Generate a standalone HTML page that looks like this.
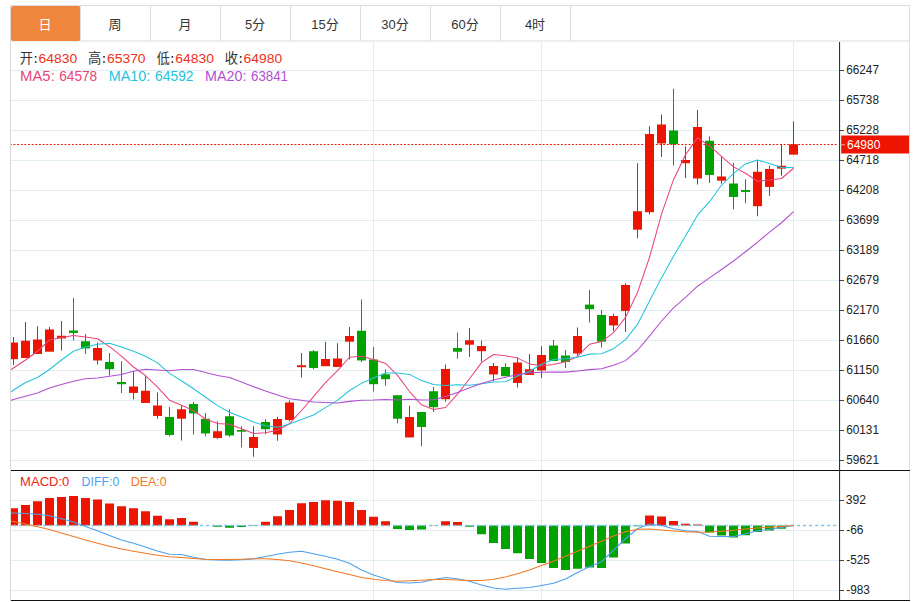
<!DOCTYPE html>
<html><head><meta charset="utf-8"><title>K</title>
<style>html,body{margin:0;padding:0;background:#fff;}svg{display:block}text{font-family:"Liberation Sans","Noto Sans CJK SC",sans-serif;}</style>
</head><body>
<svg width="916" height="602" viewBox="0 0 916 602">
<rect x="0" y="0" width="916" height="602" fill="#fff"/>
<rect x="10.5" y="5.5" width="899" height="35.5" fill="#fff" stroke="#ddd" stroke-width="1"/>
<rect x="11" y="6" width="69.5" height="35" rx="2" fill="#f0853c"/>
<rect x="80" y="6" width="1" height="35" fill="#ddd"/>
<rect x="150" y="6" width="1" height="35" fill="#ddd"/>
<rect x="220" y="6" width="1" height="35" fill="#ddd"/>
<rect x="290" y="6" width="1" height="35" fill="#ddd"/>
<rect x="360" y="6" width="1" height="35" fill="#ddd"/>
<rect x="430" y="6" width="1" height="35" fill="#ddd"/>
<rect x="500" y="6" width="1" height="35" fill="#ddd"/>
<rect x="570" y="6" width="1" height="35" fill="#ddd"/>
<text x="38.5" y="28.9" font-size="13" fill="#fff">日</text>
<text x="108.5" y="28.9" font-size="13" fill="#333">周</text>
<text x="178.5" y="28.9" font-size="13" fill="#333">月</text>
<text x="244.89" y="29.2" font-size="13" fill="#333">5</text>
<text x="252.11" y="28.9" font-size="13" fill="#333">分</text>
<text x="311.27" y="29.2" font-size="13" fill="#333">15</text>
<text x="325.73" y="28.9" font-size="13" fill="#333">分</text>
<text x="381.27" y="29.2" font-size="13" fill="#333">30</text>
<text x="395.73" y="28.9" font-size="13" fill="#333">分</text>
<text x="451.27" y="29.2" font-size="13" fill="#333">60</text>
<text x="465.73" y="28.9" font-size="13" fill="#333">分</text>
<text x="524.89" y="29.2" font-size="13" fill="#333">4</text>
<text x="532.11" y="28.9" font-size="13" fill="#333">时</text>
<g shape-rendering="crispEdges">
<rect x="11" y="70" width="828" height="1" fill="#e1ecf2"/>
<rect x="11" y="100" width="828" height="1" fill="#e1ecf2"/>
<rect x="11" y="130" width="828" height="1" fill="#e1ecf2"/>
<rect x="11" y="160" width="828" height="1" fill="#e1ecf2"/>
<rect x="11" y="190" width="828" height="1" fill="#e1ecf2"/>
<rect x="11" y="220" width="828" height="1" fill="#e1ecf2"/>
<rect x="11" y="250" width="828" height="1" fill="#e1ecf2"/>
<rect x="11" y="280" width="828" height="1" fill="#e1ecf2"/>
<rect x="11" y="310" width="828" height="1" fill="#e1ecf2"/>
<rect x="11" y="340" width="828" height="1" fill="#e1ecf2"/>
<rect x="11" y="370" width="828" height="1" fill="#e1ecf2"/>
<rect x="11" y="400" width="828" height="1" fill="#e1ecf2"/>
<rect x="11" y="430" width="828" height="1" fill="#e1ecf2"/>
<rect x="11" y="460" width="828" height="1" fill="#e1ecf2"/>
<rect x="11" y="500" width="828" height="1" fill="#e1ecf2"/>
<rect x="11" y="530" width="828" height="1" fill="#e1ecf2"/>
<rect x="11" y="560" width="828" height="1" fill="#e1ecf2"/>
<rect x="11" y="590" width="828" height="1" fill="#e1ecf2"/>
<rect x="373" y="41.5" width="1" height="558" fill="#e1ecf2"/>
<rect x="541" y="41.5" width="1" height="558" fill="#e1ecf2"/>
<rect x="793" y="41.5" width="1" height="558" fill="#e1ecf2"/>
</g>
<rect x="10" y="5" width="1" height="596" fill="#d9d9d9"/>
<rect x="909" y="5" width="1" height="596" fill="#ddd"/>
<clipPath id="cp"><rect x="11" y="41" width="829" height="560"/></clipPath>
<g clip-path="url(#cp)">
<rect x="13" y="337" width="1" height="28" fill="#ee1500"/>
<rect x="9" y="342.5" width="9" height="16.7" fill="#ee1500"/>
<rect x="25" y="322" width="1" height="35.5" fill="#ee1500"/>
<rect x="21" y="340.75" width="9" height="17.2" fill="#ee1500"/>
<rect x="37" y="326.25" width="1" height="27.25" fill="#ee1500"/>
<rect x="33" y="339.5" width="9" height="14.45" fill="#ee1500"/>
<rect x="49" y="327" width="1" height="24.25" fill="#ee1500"/>
<rect x="45" y="329.5" width="9" height="22.2" fill="#ee1500"/>
<rect x="61" y="321" width="1" height="29.5" fill="#ee1500"/>
<rect x="57" y="335.75" width="9" height="2.7" fill="#ee1500"/>
<rect x="73" y="298" width="1" height="42.5" fill="#00a200"/>
<rect x="69" y="330.5" width="9" height="2.45" fill="#00a200"/>
<rect x="85" y="334" width="1" height="20" fill="#00a200"/>
<rect x="81" y="341.25" width="9" height="7.2" fill="#00a200"/>
<rect x="97" y="342.5" width="1" height="22" fill="#ee1500"/>
<rect x="93" y="348" width="9" height="12.45" fill="#ee1500"/>
<rect x="109" y="353" width="1" height="22.5" fill="#00a200"/>
<rect x="105" y="362" width="9" height="7.2" fill="#00a200"/>
<rect x="121" y="361.25" width="1" height="31.75" fill="#00a200"/>
<rect x="117" y="382" width="9" height="2.2" fill="#00a200"/>
<rect x="133" y="371.25" width="1" height="28.25" fill="#ee1500"/>
<rect x="129" y="386.5" width="9" height="6.45" fill="#ee1500"/>
<rect x="145" y="376.25" width="1" height="26.25" fill="#ee1500"/>
<rect x="141" y="390.75" width="9" height="12.2" fill="#ee1500"/>
<rect x="157" y="392.5" width="1" height="26.25" fill="#ee1500"/>
<rect x="153" y="405.5" width="9" height="10.45" fill="#ee1500"/>
<rect x="169" y="407" width="1" height="29.25" fill="#00a200"/>
<rect x="165" y="417" width="9" height="17.95" fill="#00a200"/>
<rect x="181" y="405.5" width="1" height="35" fill="#ee1500"/>
<rect x="177" y="409.25" width="9" height="9.45" fill="#ee1500"/>
<rect x="193" y="402" width="1" height="32.5" fill="#00a200"/>
<rect x="189" y="404" width="9" height="9.45" fill="#00a200"/>
<rect x="205" y="413" width="1" height="23.25" fill="#00a200"/>
<rect x="201" y="418.75" width="9" height="14.7" fill="#00a200"/>
<rect x="217" y="421.25" width="1" height="17.75" fill="#ee1500"/>
<rect x="213" y="431.25" width="9" height="6.7" fill="#ee1500"/>
<rect x="229" y="409.25" width="1" height="27.5" fill="#00a200"/>
<rect x="225" y="416.25" width="9" height="19.2" fill="#00a200"/>
<rect x="241" y="426.25" width="1" height="21.25" fill="#00a200"/>
<rect x="237" y="430" width="9" height="1.7" fill="#00a200"/>
<rect x="253" y="426.25" width="1" height="30.5" fill="#ee1500"/>
<rect x="249" y="437" width="9" height="10.95" fill="#ee1500"/>
<rect x="265" y="419.25" width="1" height="15" fill="#00a200"/>
<rect x="261" y="422" width="9" height="7.2" fill="#00a200"/>
<rect x="277" y="416.75" width="1" height="24" fill="#ee1500"/>
<rect x="273" y="419" width="9" height="15.45" fill="#ee1500"/>
<rect x="289" y="400.5" width="1" height="20.75" fill="#ee1500"/>
<rect x="285" y="402.5" width="9" height="17.45" fill="#ee1500"/>
<rect x="301" y="353" width="1" height="24.5" fill="#ee1500"/>
<rect x="297" y="365.25" width="9" height="1.95" fill="#ee1500"/>
<rect x="313" y="350" width="1" height="19.25" fill="#00a200"/>
<rect x="309" y="351.25" width="9" height="16.7" fill="#00a200"/>
<rect x="325" y="341.75" width="1" height="24" fill="#ee1500"/>
<rect x="321" y="359" width="9" height="7.2" fill="#ee1500"/>
<rect x="337" y="343.25" width="1" height="23.25" fill="#ee1500"/>
<rect x="333" y="358.5" width="9" height="8.45" fill="#ee1500"/>
<rect x="349" y="327" width="1" height="32.3" fill="#ee1500"/>
<rect x="345" y="336" width="9" height="5.7" fill="#ee1500"/>
<rect x="361" y="299.5" width="1" height="62.5" fill="#00a200"/>
<rect x="357" y="330.75" width="9" height="29.7" fill="#00a200"/>
<rect x="373" y="347" width="1" height="44.5" fill="#00a200"/>
<rect x="369" y="359.5" width="9" height="24.7" fill="#00a200"/>
<rect x="385" y="369.25" width="1" height="16.5" fill="#00a200"/>
<rect x="381" y="374.25" width="9" height="4.95" fill="#00a200"/>
<rect x="397" y="395.25" width="1" height="28" fill="#00a200"/>
<rect x="393" y="395.25" width="9" height="23.45" fill="#00a200"/>
<rect x="409" y="405.75" width="1" height="31.25" fill="#ee1500"/>
<rect x="405" y="417" width="9" height="20.45" fill="#ee1500"/>
<rect x="421" y="412" width="1" height="34.25" fill="#00a200"/>
<rect x="417" y="412" width="9" height="14.95" fill="#00a200"/>
<rect x="433" y="387" width="1" height="25" fill="#00a200"/>
<rect x="429" y="391.25" width="9" height="15.95" fill="#00a200"/>
<rect x="445" y="364.5" width="1" height="37.25" fill="#ee1500"/>
<rect x="441" y="369" width="9" height="30.2" fill="#ee1500"/>
<rect x="457" y="332.5" width="1" height="26.25" fill="#00a200"/>
<rect x="453" y="348" width="9" height="3.7" fill="#00a200"/>
<rect x="469" y="328" width="1" height="29" fill="#ee1500"/>
<rect x="465" y="340.25" width="9" height="4.45" fill="#ee1500"/>
<rect x="481" y="340.5" width="1" height="21" fill="#ee1500"/>
<rect x="477" y="346" width="9" height="5.2" fill="#ee1500"/>
<rect x="493" y="363" width="1" height="18.25" fill="#ee1500"/>
<rect x="489" y="366" width="9" height="8.45" fill="#ee1500"/>
<rect x="505" y="363.25" width="1" height="12.95" fill="#00a200"/>
<rect x="501" y="367" width="9" height="9.2" fill="#00a200"/>
<rect x="517" y="357.5" width="1" height="30" fill="#ee1500"/>
<rect x="513" y="362.5" width="9" height="20.45" fill="#ee1500"/>
<rect x="529" y="354" width="1" height="20.5" fill="#ee1500"/>
<rect x="525" y="369.25" width="9" height="5.7" fill="#ee1500"/>
<rect x="541" y="346.25" width="1" height="31.75" fill="#ee1500"/>
<rect x="537" y="355" width="9" height="15.45" fill="#ee1500"/>
<rect x="553" y="340" width="1" height="20.5" fill="#00a200"/>
<rect x="549" y="345.5" width="9" height="15.45" fill="#00a200"/>
<rect x="565" y="350" width="1" height="18" fill="#00a200"/>
<rect x="561" y="355.5" width="9" height="6.45" fill="#00a200"/>
<rect x="577" y="327.5" width="1" height="28" fill="#ee1500"/>
<rect x="573" y="336" width="9" height="17.45" fill="#ee1500"/>
<rect x="589" y="290" width="1" height="32.5" fill="#00a200"/>
<rect x="585" y="304.6" width="9" height="4.6" fill="#00a200"/>
<rect x="601" y="310" width="1" height="37.5" fill="#00a200"/>
<rect x="597" y="315" width="9" height="26.7" fill="#00a200"/>
<rect x="613" y="313.75" width="1" height="17.5" fill="#ee1500"/>
<rect x="609" y="316" width="9" height="9.45" fill="#ee1500"/>
<rect x="625" y="283.25" width="1" height="48.75" fill="#ee1500"/>
<rect x="621" y="285" width="9" height="25.95" fill="#ee1500"/>
<rect x="637" y="163.25" width="1" height="75" fill="#ee1500"/>
<rect x="633" y="211.25" width="9" height="18.45" fill="#ee1500"/>
<rect x="649" y="126.25" width="1" height="88.25" fill="#ee1500"/>
<rect x="645" y="134" width="9" height="78.2" fill="#ee1500"/>
<rect x="661" y="114.5" width="1" height="42.5" fill="#ee1500"/>
<rect x="657" y="124.5" width="9" height="18.95" fill="#ee1500"/>
<rect x="673" y="88.75" width="1" height="76.75" fill="#00a200"/>
<rect x="669" y="130.5" width="9" height="13.7" fill="#00a200"/>
<rect x="685" y="146.25" width="1" height="31.75" fill="#ee1500"/>
<rect x="681" y="160" width="9" height="3.2" fill="#ee1500"/>
<rect x="697" y="110" width="1" height="74.5" fill="#ee1500"/>
<rect x="693" y="127" width="9" height="51.45" fill="#ee1500"/>
<rect x="709" y="136.25" width="1" height="46.75" fill="#00a200"/>
<rect x="705" y="140.75" width="9" height="34.2" fill="#00a200"/>
<rect x="721" y="157" width="1" height="26.75" fill="#ee1500"/>
<rect x="717" y="176.5" width="9" height="4.2" fill="#ee1500"/>
<rect x="733" y="163" width="1" height="46.25" fill="#00a200"/>
<rect x="729" y="183.5" width="9" height="13.45" fill="#00a200"/>
<rect x="745" y="179.25" width="1" height="24" fill="#00a200"/>
<rect x="741" y="190" width="9" height="1.95" fill="#00a200"/>
<rect x="757" y="160" width="1" height="56.25" fill="#ee1500"/>
<rect x="753" y="171.75" width="9" height="34.45" fill="#ee1500"/>
<rect x="769" y="165.75" width="1" height="30" fill="#ee1500"/>
<rect x="765" y="169" width="9" height="17.95" fill="#ee1500"/>
<rect x="781" y="144.25" width="1" height="31.5" fill="#ee1500"/>
<rect x="777" y="165.75" width="9" height="2.9" fill="#ee1500"/>
<rect x="793" y="121.4" width="1" height="32.8" fill="#ee1500"/>
<rect x="789" y="144.4" width="9" height="10.25" fill="#ee1500"/>
<polyline fill="none" stroke="#e8447c" stroke-width="1.05" stroke-linejoin="round" points="10.5,370 13.5,368 25.5,360 37.5,351.25 49.5,340 61.5,337.6 73.5,335.6 85.5,337.05 97.5,338.75 109.5,346.6 121.5,356.2 133.5,367 145.5,375.55 157.5,387.05 169.5,400.2 181.5,405.3 193.5,410.6 205.5,419.05 217.5,423.4 229.5,424.3 241.5,428.7 253.5,433.5 265.5,432.65 277.5,430.2 289.5,423.7 301.5,410.5 313.5,396.6 325.5,382.65 337.5,370.55 349.5,357.25 361.5,356.2 373.5,359.45 385.5,363.4 397.5,375.35 409.5,391.55 421.5,404.85 433.5,409.45 445.5,407.5 457.5,394.1 469.5,378.75 481.5,362.65 493.5,354.5 505.5,355.85 517.5,358.1 529.5,363.9 541.5,365.7 553.5,364.6 565.5,361.75 577.5,356.45 589.5,344.35 601.5,341.6 613.5,332.7 625.5,317.4 637.5,292.45 649.5,257.5 661.5,214.15 673.5,179.7 685.5,154.7 697.5,137.85 709.5,145.95 721.5,156.35 733.5,166.9 745.5,173.2 757.5,181.2 769.5,180.1 781.5,178.5 793.5,168.24"/>
<polyline fill="none" stroke="#22c4dc" stroke-width="1.05" stroke-linejoin="round" points="10.5,392.5 13.5,390 25.5,382.5 37.5,377.5 49.5,369.5 61.5,360 73.5,351.25 85.5,347 97.5,344.25 109.5,343.25 121.5,346.9 133.5,351.3 145.5,356.3 157.5,362.9 169.5,373.4 181.5,380.75 193.5,388.8 205.5,397.3 217.5,405.62 229.5,412.25 241.5,417 253.5,422.05 265.5,425.85 277.5,427.2 289.5,424 301.5,419.6 313.5,415.05 325.5,407.65 337.5,400.38 349.5,390.48 361.5,383.35 373.5,378.02 385.5,373.02 397.5,372.95 409.5,374.4 421.5,380.52 433.5,384.45 445.5,385.45 457.5,384.73 469.5,385.15 481.5,383.75 493.5,381.98 505.5,381.68 517.5,376.1 529.5,371.32 541.5,364.18 553.5,359.55 565.5,358.8 577.5,357.27 589.5,354.12 601.5,353.65 613.5,348.65 625.5,339.57 637.5,324.45 649.5,300.93 661.5,277.88 673.5,256.2 685.5,236.05 697.5,215.15 709.5,201.72 721.5,185.25 733.5,173.3 745.5,163.95 757.5,160 769.5,163.5 781.5,167.62 793.5,167.41"/>
<polyline fill="none" stroke="#b050d0" stroke-width="1.05" stroke-linejoin="round" points="10.5,400.5 13.5,399.5 25.5,396.25 37.5,393 49.5,388 61.5,384.5 73.5,381.25 85.5,378.75 97.5,378 109.5,376.25 121.5,374.5 133.5,371.25 145.5,369.25 157.5,370 169.5,370.75 181.5,369.5 193.5,369.5 205.5,372.5 217.5,375.5 229.5,377.5 241.5,381.95 253.5,386.68 265.5,391.07 277.5,395.05 289.5,398.7 301.5,400.18 313.5,401.93 325.5,402.48 337.5,403 349.5,401.36 361.5,400.18 373.5,400.04 385.5,399.44 397.5,400.07 409.5,399.2 421.5,400.06 433.5,399.75 445.5,396.55 457.5,392.55 469.5,387.81 481.5,383.55 493.5,380 505.5,377.35 517.5,374.52 529.5,372.86 541.5,372.35 553.5,372 565.5,372.12 577.5,371 589.5,369.64 601.5,368.7 613.5,365.31 625.5,360.62 637.5,350.27 649.5,336.12 661.5,321.02 673.5,307.88 685.5,297.43 697.5,286.21 709.5,277.93 721.5,269.45 733.5,260.98 745.5,251.76 757.5,242.22 769.5,232.21 781.5,222.75 793.5,211.61"/>
<line x1="9.8" y1="144.55" x2="838" y2="144.55" stroke="#ee1500" stroke-width="1.1" stroke-dasharray="1.9 1.75"/>
<rect x="9" y="508.25" width="9" height="17.25" fill="#ee1500"/>
<rect x="21" y="505" width="9" height="20.5" fill="#ee1500"/>
<rect x="33" y="501.25" width="9" height="24.25" fill="#ee1500"/>
<rect x="45" y="498" width="9" height="27.5" fill="#ee1500"/>
<rect x="57" y="497" width="9" height="28.5" fill="#ee1500"/>
<rect x="69" y="496" width="9" height="29.5" fill="#ee1500"/>
<rect x="81" y="498" width="9" height="27.5" fill="#ee1500"/>
<rect x="93" y="499.5" width="9" height="26" fill="#ee1500"/>
<rect x="105" y="503.5" width="9" height="22" fill="#ee1500"/>
<rect x="117" y="506.25" width="9" height="19.25" fill="#ee1500"/>
<rect x="129" y="508.25" width="9" height="17.25" fill="#ee1500"/>
<rect x="141" y="511.25" width="9" height="14.25" fill="#ee1500"/>
<rect x="153" y="515.75" width="9" height="9.75" fill="#ee1500"/>
<rect x="165" y="519.25" width="9" height="6.25" fill="#ee1500"/>
<rect x="177" y="518" width="9" height="7.5" fill="#ee1500"/>
<rect x="189" y="521.75" width="9" height="3.75" fill="#ee1500"/>
<rect x="213" y="525.5" width="9" height="1.25" fill="#00a200"/>
<rect x="225" y="525.5" width="9" height="2.25" fill="#00a200"/>
<rect x="237" y="525.5" width="9" height="1.5" fill="#00a200"/>
<rect x="249" y="525.5" width="9" height="0.5" fill="#00a200"/>
<rect x="261" y="521.75" width="9" height="3.75" fill="#ee1500"/>
<rect x="273" y="516.25" width="9" height="9.25" fill="#ee1500"/>
<rect x="285" y="510" width="9" height="15.5" fill="#ee1500"/>
<rect x="297" y="503.25" width="9" height="22.25" fill="#ee1500"/>
<rect x="309" y="502" width="9" height="23.5" fill="#ee1500"/>
<rect x="321" y="500.25" width="9" height="25.25" fill="#ee1500"/>
<rect x="333" y="500.75" width="9" height="24.75" fill="#ee1500"/>
<rect x="345" y="502" width="9" height="23.5" fill="#ee1500"/>
<rect x="357" y="510" width="9" height="15.5" fill="#ee1500"/>
<rect x="369" y="516.75" width="9" height="8.75" fill="#ee1500"/>
<rect x="381" y="521.25" width="9" height="4.25" fill="#ee1500"/>
<rect x="393" y="525.5" width="9" height="3.5" fill="#00a200"/>
<rect x="405" y="525.5" width="9" height="4.5" fill="#00a200"/>
<rect x="417" y="525.5" width="9" height="4" fill="#00a200"/>
<rect x="429" y="525.2" width="9" height="0.3" fill="#ee1500"/>
<rect x="441" y="521.25" width="9" height="4.25" fill="#ee1500"/>
<rect x="453" y="522" width="9" height="3.5" fill="#ee1500"/>
<rect x="465" y="525.5" width="9" height="1.25" fill="#00a200"/>
<rect x="477" y="525.5" width="9" height="8.75" fill="#00a200"/>
<rect x="489" y="525.5" width="9" height="17.5" fill="#00a200"/>
<rect x="501" y="525.5" width="9" height="23.5" fill="#00a200"/>
<rect x="513" y="525.5" width="9" height="27.75" fill="#00a200"/>
<rect x="525" y="525.5" width="9" height="33.5" fill="#00a200"/>
<rect x="537" y="525.5" width="9" height="37.5" fill="#00a200"/>
<rect x="549" y="525.5" width="9" height="42.5" fill="#00a200"/>
<rect x="561" y="525.5" width="9" height="44.5" fill="#00a200"/>
<rect x="573" y="525.5" width="9" height="43.25" fill="#00a200"/>
<rect x="585" y="525.5" width="9" height="42" fill="#00a200"/>
<rect x="597" y="525.5" width="9" height="42.5" fill="#00a200"/>
<rect x="609" y="525.5" width="9" height="32" fill="#00a200"/>
<rect x="621" y="525.5" width="9" height="18" fill="#00a200"/>
<rect x="633" y="525.5" width="9" height="0.75" fill="#00a200"/>
<rect x="645" y="515.5" width="9" height="10" fill="#ee1500"/>
<rect x="657" y="516.5" width="9" height="9" fill="#ee1500"/>
<rect x="669" y="521" width="9" height="4.5" fill="#ee1500"/>
<rect x="681" y="523.75" width="9" height="1.75" fill="#ee1500"/>
<rect x="693" y="524.5" width="9" height="1" fill="#ee1500"/>
<rect x="705" y="525.5" width="9" height="7" fill="#00a200"/>
<rect x="717" y="525.5" width="9" height="10" fill="#00a200"/>
<rect x="729" y="525.5" width="9" height="12" fill="#00a200"/>
<rect x="741" y="525.5" width="9" height="9.75" fill="#00a200"/>
<rect x="753" y="525.5" width="9" height="6.5" fill="#00a200"/>
<rect x="765" y="525.5" width="9" height="5" fill="#00a200"/>
<rect x="777" y="525.5" width="9" height="3.25" fill="#00a200"/>
<line x1="7.1" y1="525.5" x2="837" y2="525.5" stroke="#74c6ec" stroke-width="1.3" stroke-dasharray="3 3.03"/>
<polyline fill="none" stroke="#4aa0ee" stroke-width="1.05" stroke-linejoin="round" points="10.5,513 13.5,513 25.5,513.5 37.5,514.25 49.5,515.75 61.5,518.75 73.5,522 85.5,526.5 97.5,530.75 109.5,535.5 121.5,540 133.5,543.25 145.5,547 157.5,551 169.5,554.25 181.5,554.5 193.5,557.25 205.5,559.5 217.5,560 229.5,560.25 241.5,559.75 253.5,559 265.5,556.5 277.5,554.25 289.5,552.25 301.5,551.25 313.5,553.75 325.5,556.25 337.5,559.25 349.5,563.25 361.5,570 373.5,575 385.5,578.75 397.5,582.5 409.5,583 421.5,582.25 433.5,579.5 445.5,577.5 457.5,578.75 469.5,581.25 481.5,585 493.5,588 505.5,589.25 517.5,588.25 529.5,587.5 541.5,585.5 553.5,583.25 565.5,579 577.5,572.5 589.5,566.75 601.5,561.75 613.5,550.25 625.5,538.75 637.5,528.75 649.5,524 661.5,525.5 673.5,528.75 685.5,530.75 697.5,531.5 709.5,536.25 721.5,536.5 733.5,536.5 745.5,533.75 757.5,530.75 769.5,529.25 781.5,527.5 793.5,525.5"/>
<polyline fill="none" stroke="#f27822" stroke-width="1.05" stroke-linejoin="round" points="10.5,521.2 13.5,521.5 25.5,524 37.5,526.75 49.5,529.5 61.5,533 73.5,536.5 85.5,540 97.5,543.25 109.5,546.25 121.5,549 133.5,551.25 145.5,553.25 157.5,555.25 169.5,556.75 181.5,557.5 193.5,558.5 205.5,559.25 217.5,559.5 229.5,559.5 241.5,559.25 253.5,558.75 265.5,558.75 277.5,559.5 289.5,560.75 301.5,563 313.5,565.75 325.5,568.75 337.5,571.75 349.5,574.5 361.5,577.5 373.5,579.25 385.5,580.5 397.5,581.25 409.5,580.75 421.5,580.25 433.5,579.5 445.5,579.5 457.5,580 469.5,580.5 481.5,580.5 493.5,579.25 505.5,577 517.5,573.75 529.5,570 541.5,565.5 553.5,561.25 565.5,556.25 577.5,551.25 589.5,546.25 601.5,541.25 613.5,536 625.5,531.75 637.5,529.25 649.5,529 661.5,530 673.5,531 685.5,531.75 697.5,532.25 709.5,532 721.5,531.25 733.5,530.25 745.5,529 757.5,528 769.5,527.25 781.5,526.5 793.5,525.5"/>
</g>
<rect x="11" y="470" width="899" height="1" fill="#111"/>
<rect x="11" y="600" width="899" height="1" fill="#111"/>
<rect x="839" y="42" width="1.1" height="558" fill="#333"/>
<rect x="840" y="70" width="4" height="1" fill="#444"/>
<text x="846.2" y="74.45" font-size="12.5" fill="#222" textLength="32.8" lengthAdjust="spacingAndGlyphs">66247</text>
<rect x="840" y="100" width="4" height="1" fill="#444"/>
<text x="846.2" y="104.45" font-size="12.5" fill="#222" textLength="32.8" lengthAdjust="spacingAndGlyphs">65738</text>
<rect x="840" y="130" width="4" height="1" fill="#444"/>
<text x="846.2" y="134.45" font-size="12.5" fill="#222" textLength="32.8" lengthAdjust="spacingAndGlyphs">65228</text>
<rect x="840" y="160" width="4" height="1" fill="#444"/>
<text x="846.2" y="164.45" font-size="12.5" fill="#222" textLength="32.8" lengthAdjust="spacingAndGlyphs">64718</text>
<rect x="840" y="190" width="4" height="1" fill="#444"/>
<text x="846.2" y="194.45" font-size="12.5" fill="#222" textLength="32.8" lengthAdjust="spacingAndGlyphs">64208</text>
<rect x="840" y="220" width="4" height="1" fill="#444"/>
<text x="846.2" y="224.45" font-size="12.5" fill="#222" textLength="32.8" lengthAdjust="spacingAndGlyphs">63699</text>
<rect x="840" y="250" width="4" height="1" fill="#444"/>
<text x="846.2" y="254.45" font-size="12.5" fill="#222" textLength="32.8" lengthAdjust="spacingAndGlyphs">63189</text>
<rect x="840" y="280" width="4" height="1" fill="#444"/>
<text x="846.2" y="284.45" font-size="12.5" fill="#222" textLength="32.8" lengthAdjust="spacingAndGlyphs">62679</text>
<rect x="840" y="310" width="4" height="1" fill="#444"/>
<text x="846.2" y="314.45" font-size="12.5" fill="#222" textLength="32.8" lengthAdjust="spacingAndGlyphs">62170</text>
<rect x="840" y="340" width="4" height="1" fill="#444"/>
<text x="846.2" y="344.45" font-size="12.5" fill="#222" textLength="32.8" lengthAdjust="spacingAndGlyphs">61660</text>
<rect x="840" y="370" width="4" height="1" fill="#444"/>
<text x="846.2" y="374.45" font-size="12.5" fill="#222" textLength="32.8" lengthAdjust="spacingAndGlyphs">61150</text>
<rect x="840" y="400" width="4" height="1" fill="#444"/>
<text x="846.2" y="404.45" font-size="12.5" fill="#222" textLength="32.8" lengthAdjust="spacingAndGlyphs">60640</text>
<rect x="840" y="430" width="4" height="1" fill="#444"/>
<text x="846.2" y="434.45" font-size="12.5" fill="#222" textLength="32.8" lengthAdjust="spacingAndGlyphs">60131</text>
<rect x="840" y="460" width="4" height="1" fill="#444"/>
<text x="846.2" y="464.45" font-size="12.5" fill="#222" textLength="32.8" lengthAdjust="spacingAndGlyphs">59621</text>
<rect x="840" y="500" width="4" height="1" fill="#444"/>
<text x="845.84" y="504.45" font-size="12.5" fill="#222" textLength="20.27" lengthAdjust="spacingAndGlyphs">392</text>
<rect x="840" y="530" width="4" height="1" fill="#444"/>
<text x="846.22" y="534.45" font-size="12.5" fill="#222" textLength="17.31" lengthAdjust="spacingAndGlyphs">-66</text>
<rect x="840" y="560" width="4" height="1" fill="#444"/>
<text x="846.23" y="564.45" font-size="12.5" fill="#222" textLength="23.57" lengthAdjust="spacingAndGlyphs">-525</text>
<rect x="840" y="590" width="4" height="1" fill="#444"/>
<text x="846.23" y="594.45" font-size="12.5" fill="#222" textLength="23.59" lengthAdjust="spacingAndGlyphs">-983</text>
<rect x="841.2" y="135.5" width="67.8" height="18" fill="#ee1500"/>
<rect x="841.2" y="144.2" width="3.6" height="1.1" fill="#f7a59c"/>
<text x="847" y="149.4" font-size="12.5" fill="#fff" textLength="33.4" lengthAdjust="spacingAndGlyphs">64980</text>
<text x="19.7" y="62.7" font-size="13.3" fill="#333">开</text>
<rect x="34.85" y="56" width="1.6" height="1.7" fill="#2a2a2a"/><rect x="34.85" y="61.2" width="1.6" height="1.7" fill="#2a2a2a"/>
<text x="38.59" y="62.6" font-size="13.2" fill="#f03020" textLength="38.65" lengthAdjust="spacingAndGlyphs">64830</text>
<text x="88.05" y="62.7" font-size="13.3" fill="#333">高</text>
<rect x="103.2" y="56" width="1.6" height="1.7" fill="#2a2a2a"/><rect x="103.2" y="61.2" width="1.6" height="1.7" fill="#2a2a2a"/>
<text x="106.94" y="62.6" font-size="13.2" fill="#f03020" textLength="38.65" lengthAdjust="spacingAndGlyphs">65370</text>
<text x="156.4" y="62.7" font-size="13.3" fill="#333">低</text>
<rect x="171.55" y="56" width="1.6" height="1.7" fill="#2a2a2a"/><rect x="171.55" y="61.2" width="1.6" height="1.7" fill="#2a2a2a"/>
<text x="175.29" y="62.6" font-size="13.2" fill="#f03020" textLength="38.65" lengthAdjust="spacingAndGlyphs">64830</text>
<text x="224.75" y="62.7" font-size="13.3" fill="#333">收</text>
<rect x="239.9" y="56" width="1.6" height="1.7" fill="#2a2a2a"/><rect x="239.9" y="61.2" width="1.6" height="1.7" fill="#2a2a2a"/>
<text x="243.64" y="62.6" font-size="13.2" fill="#f03020" textLength="38.65" lengthAdjust="spacingAndGlyphs">64980</text>
<text x="20.08" y="80.8" font-size="13.8" fill="#e8447c" textLength="34.68" lengthAdjust="spacingAndGlyphs">MA5:</text>
<text x="59.21" y="80.8" font-size="13.8" fill="#e8447c" textLength="37.99" lengthAdjust="spacingAndGlyphs">64578</text>
<text x="108.82" y="80.8" font-size="13.8" fill="#22c4dc" textLength="41.49" lengthAdjust="spacingAndGlyphs">MA10:</text>
<text x="155.1" y="80.8" font-size="13.8" fill="#22c4dc" textLength="38.4" lengthAdjust="spacingAndGlyphs">64592</text>
<text x="205.13" y="80.8" font-size="13.8" fill="#b050d0" textLength="41.28" lengthAdjust="spacingAndGlyphs">MA20:</text>
<text x="251.03" y="80.8" font-size="13.8" fill="#b050d0" textLength="36.92" lengthAdjust="spacingAndGlyphs">63841</text>
<text x="20.13" y="486" font-size="12.5" fill="#f02414" textLength="49.18" lengthAdjust="spacingAndGlyphs">MACD:0</text>
<text x="81.59" y="486" font-size="12.5" fill="#4aa0ee" textLength="37.69" lengthAdjust="spacingAndGlyphs">DIFF:0</text>
<text x="130.78" y="486" font-size="12.5" fill="#f27822" textLength="36.01" lengthAdjust="spacingAndGlyphs">DEA:0</text>
</svg>
</body></html>
